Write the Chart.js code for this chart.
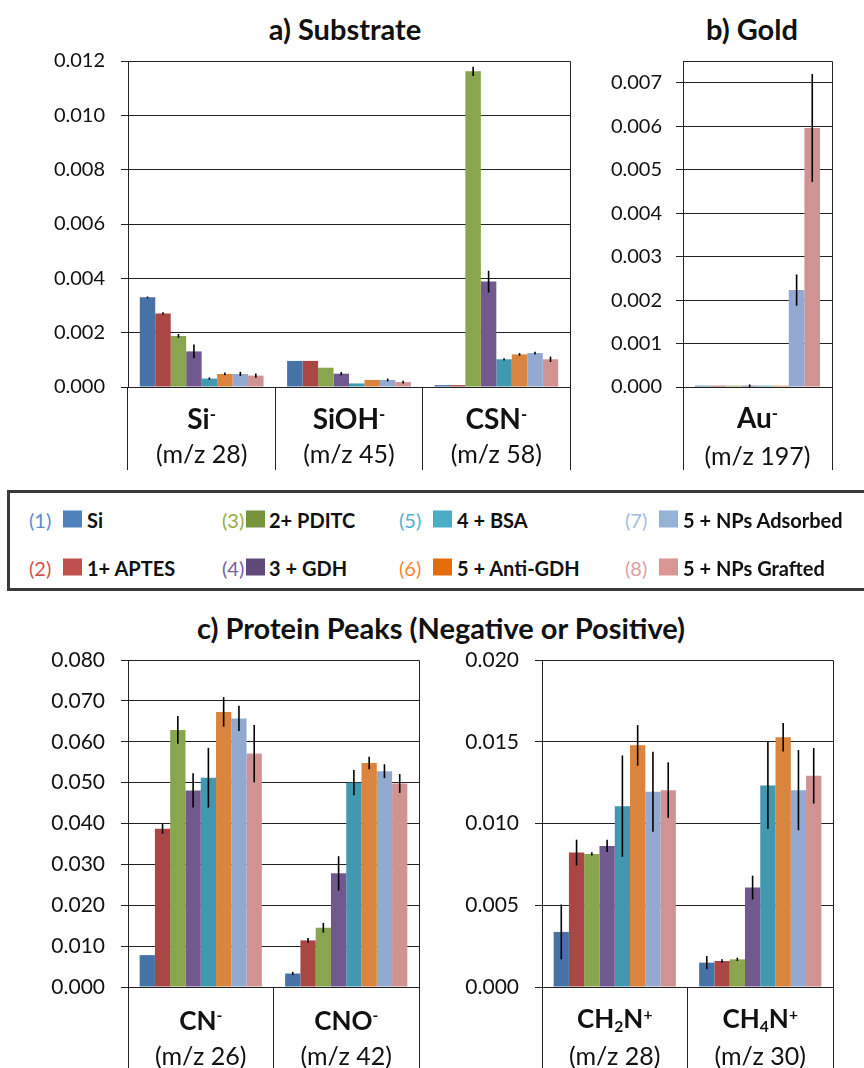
<!DOCTYPE html>
<html>
<head>
<meta charset="utf-8">
<script src="https://cdn.jsdelivr.net/npm/chart.js@4.4.0/dist/chart.umd.min.js"></script>
<style>
  body { margin: 0; background: #fff; font-family: Lato, 'Open Sans', sans-serif; }
  #page { position: relative; width: 864px; height: 1068px; overflow: hidden; background: #fff; }
  canvas { position: absolute; }
  .title { position: absolute; font-weight: 700; font-size: 29px; color: #111; transform: translate(-50%, -50%); white-space: nowrap; }
  .cat { position: absolute; width: 180px; text-align: center; color: #111; white-space: nowrap; transform: translate(-50%, -50%); line-height: 1; }
  .cat.ion { font-weight: 700; }
  .cat sup { font-size: 60%; vertical-align: 0.55em; }
  .cat sub { font-size: 60%; vertical-align: -0.25em; }
  #legendBox { position: absolute; left: 7px; top: 490px; width: 880px; height: 101px; border: 3px solid #3a3a3a; box-sizing: border-box; }
  .lg { position: absolute; font-size: 20px; white-space: nowrap; transform: translateY(-50%); line-height: 1; }
  .lg.txt { font-weight: 700; color: #111; }
  .sq { position: absolute; width: 19px; height: 17px; transform: translateY(-50%); }
</style>
</head>
<body>
<div id="page">
  <div class="title" style="left:345px; top:28px;">a) Substrate</div>
  <div class="title" style="left:752px; top:28px;">b) Gold</div>
  <div class="title" style="left:441px; top:627px;">c) Protein Peaks (Negative or Positive)</div>

  <canvas id="chartA" width="590" height="430" style="left:0; top:45px;"></canvas>
  <canvas id="chartB" width="284" height="430" style="left:580px; top:45px;"></canvas>
  <canvas id="chartC1" width="430" height="423" style="left:0; top:645px;"></canvas>
  <canvas id="chartC2" width="434" height="423" style="left:430px; top:645px;"></canvas>

  <div id="legendBox"></div>
</div>

<script>
// ============================================================
// Data
// ============================================================
const seriesNames = ['Si', '1+ APTES', '2+ PDITC', '3 + GDH', '4 + BSA', '5 + Anti-GDH', '5 + NPs Adsorbed', '5 + NPs Grafted'];

// a) Substrate — per series: [Si-, SiOH-, CSN-]
const substrateIons = ['Si<sup>-</sup>', 'SiOH<sup>-</sup>', 'CSN<sup>-</sup>'];
const substrateMz = ['(m/z 28)', '(m/z 45)', '(m/z 58)'];
const substrateValues = [
  [0.00330, 0.00096, 0.00007],
  [0.00271, 0.00096, 0.00007],
  [0.00188, 0.00071, 0.01162],
  [0.00131, 0.00049, 0.00388],
  [0.00031, 0.00013, 0.00102],
  [0.00048, 0.00026, 0.00120],
  [0.00048, 0.00026, 0.00125],
  [0.00042, 0.00018, 0.00102]
];
const substrateErrors = [
  [0.00003, 0, 0],
  [0.00004, 0, 0],
  [0.00007, 0, 0.00017],
  [0.00025, 0.00006, 0.00040],
  [0.00004, 0, 0.00004],
  [0.00005, 0, 0.00005],
  [0.00008, 0.00005, 0.00005],
  [0.00008, 0.00005, 0.00010]
];
const substrateTicks = [0, 0.002, 0.004, 0.006, 0.008, 0.010, 0.012];
const substrateMax = 0.012;

// b) Gold — per series: [Au-]
const goldIons = ['Au<sup>-</sup>'];
const goldMz = ['(m/z 197)'];
const goldValues = [[0.00003], [0.00003], [0.00003], [0.00003], [0.00003], [0.00003], [0.00223], [0.00596]];
const goldErrors = [[0], [0], [0], [0.00003], [0], [0], [0.00036], [0.00124]];
const goldTicks = [0, 0.001, 0.002, 0.003, 0.004, 0.005, 0.006, 0.007];
const goldMax = 0.0075;

// c) Protein peaks, negative — per series: [CN-, CNO-]
const negIons = ['CN<sup>-</sup>', 'CNO<sup>-</sup>'];
const negMz = ['(m/z 26)', '(m/z 42)'];
const negValues = [
  [0.0078, 0.0033],
  [0.0387, 0.0114],
  [0.0629, 0.0145],
  [0.0481, 0.0278],
  [0.0512, 0.0500],
  [0.0673, 0.0548],
  [0.0657, 0.0528],
  [0.0571, 0.0498]
];
const negErrors = [
  [0, 0.0004],
  [0.0012, 0.0006],
  [0.0034, 0.0012],
  [0.0042, 0.0042],
  [0.0073, 0.0031],
  [0.0036, 0.0015],
  [0.0031, 0.0017],
  [0.0070, 0.0023]
];
const negTicks = [0, 0.01, 0.02, 0.03, 0.04, 0.05, 0.06, 0.07, 0.08];
const negMax = 0.08;

// c) Protein peaks, positive — per series: [CH2N+, CH4N+]
const posIons = ['CH<sub>2</sub>N<sup>+</sup>', 'CH<sub>4</sub>N<sup>+</sup>'];
const posMz = ['(m/z 28)', '(m/z 30)'];
const posValues = [
  [0.00337, 0.00149],
  [0.00822, 0.00159],
  [0.00814, 0.00169],
  [0.00863, 0.00608],
  [0.01106, 0.01233],
  [0.01478, 0.01527],
  [0.01194, 0.01204],
  [0.01204, 0.01292]
];
const posErrors = [
  [0.00168, 0.00040],
  [0.00079, 0.00010],
  [0.00010, 0.00010],
  [0.00038, 0.00073],
  [0.00310, 0.00265],
  [0.00124, 0.00087],
  [0.00245, 0.00245],
  [0.00170, 0.00170]
];
const posTicks = [0, 0.005, 0.010, 0.015, 0.020];
const posMax = 0.02;

// ============================================================
// Styles
// ============================================================
const barColors = ['#4672A8', '#AA4643', '#89A54E', '#71588F', '#4198AF', '#DB843D', '#93A9CF', '#D19392'];
const legendSquareColors = ['#4F81BD', '#C0504D', '#77933C', '#604A7B', '#4BACC6', '#E46C0A', '#95B3D7', '#D99694'];
const legendNumColors = ['#5B8BD0', '#D0524E', '#9AAB45', '#7A62A0', '#4FB2CE', '#F7852E', '#A3BCE0', '#E0A0A0'];
const lineColor = '#222';

// ============================================================
// Plugins
// ============================================================
const errorBars = {
  id: 'errorBars',
  afterDatasetsDraw(chart) {
    const ctx = chart.ctx;
    const y = chart.scales.y;
    ctx.save();
    ctx.strokeStyle = '#000';
    ctx.lineWidth = 1.6;
    chart.data.datasets.forEach((ds, i) => {
      chart.getDatasetMeta(i).data.forEach((bar, j) => {
        const e = ds.errors[j];
        if (!e) return;
        const v = ds.data[j];
        ctx.beginPath();
        ctx.moveTo(bar.x, y.getPixelForValue(v + e));
        ctx.lineTo(bar.x, y.getPixelForValue(Math.max(v - e, 0)));
        ctx.stroke();
      });
    });
    ctx.restore();
  }
};

// top + right border of the plot area (Excel frame)
const plotFrame = {
  id: 'plotFrame',
  afterDraw(chart) {
    const { left, right, top, bottom } = chart.chartArea;
    const ctx = chart.ctx;
    ctx.save();
    ctx.strokeStyle = lineColor;
    ctx.lineWidth = 1;
    ctx.beginPath();
    ctx.moveTo(Math.round(left) + 0.5, Math.round(top) + 0.5);
    ctx.lineTo(Math.round(right) + 0.5, Math.round(top) + 0.5);
    ctx.lineTo(Math.round(right) + 0.5, Math.round(bottom) + 0.5);
    ctx.stroke();
    ctx.restore();
  }
};

// ============================================================
// Chart builder
// ============================================================
function buildChart(canvasId, ions, values, errors, tickValues, yMax, box) {
  const datasets = seriesNames.map((name, i) => ({
    label: name,
    data: values[i],
    errors: errors[i],
    backgroundColor: barColors[i],
    borderWidth: 0,
    barPercentage: 1.0,
    categoryPercentage: 0.84
  }));

  return new Chart(document.getElementById(canvasId), {
    type: 'bar',
    data: { labels: ions.map((_, i) => 'c' + i), datasets },
    options: {
      responsive: false,
      animation: false,
      devicePixelRatio: 1,
      layout: { padding: { top: box.top, right: box.right, left: 0, bottom: 0 } },
      plugins: { legend: { display: false }, tooltip: { enabled: false } },
      scales: {
        x: {
          grid: { offset: true, drawOnChartArea: false, drawTicks: true, tickLength: box.catHeight, color: lineColor },
          border: { display: true, color: lineColor },
          ticks: { display: false },
          afterFit: s => { s.height = box.xHeight; s.paddingLeft = 0; s.paddingRight = 0; }
        },
        y: {
          min: 0,
          max: yMax,
          grid: { color: lineColor, tickLength: 7 },
          border: { display: true, color: lineColor },
          ticks: {
            padding: box.tickPad,
            color: '#111',
            autoSkip: false,
            font: { family: 'Lato', size: box.tickFont },
            callback: v => v.toFixed(3)
          },
          afterBuildTicks: s => { s.ticks = tickValues.map(v => ({ value: v })); },
          afterFit: s => { s.width = box.yWidth; s.paddingTop = 0; s.paddingBottom = 0; }
        }
      }
    },
    plugins: [errorBars, plotFrame]
  });
}

// category labels under each axis, placed from the chart's own x scale
function addCategoryLabels(chart, canvasLeft, ions, mz, pos) {
  const page = document.getElementById('page');
  ions.forEach((ion, i) => {
    const x = canvasLeft + chart.scales.x.getPixelForValue(i);
    const a = document.createElement('div');
    a.className = 'cat ion';
    a.innerHTML = ion;
    a.style.left = x + 'px';
    a.style.top = pos.ionY + 'px';
    a.style.fontSize = pos.ionFont + 'px';
    page.appendChild(a);

    const b = document.createElement('div');
    b.className = 'cat';
    b.textContent = mz[i];
    b.style.left = x + 'px';
    b.style.top = pos.mzY + 'px';
    b.style.fontSize = pos.mzFont + 'px';
    page.appendChild(b);
  });
}

const chartA = buildChart('chartA', substrateIons, substrateValues, substrateErrors, substrateTicks, substrateMax,
  { top: 16, right: 20, yWidth: 128, xHeight: 88, catHeight: 83, tickPad: 16, tickFont: 20 });
const chartB = buildChart('chartB', goldIons, goldValues, goldErrors, goldTicks, goldMax,
  { top: 16, right: 32, yWidth: 103, xHeight: 88, catHeight: 83, tickPad: 14, tickFont: 20 });
const chartC1 = buildChart('chartC1', negIons, negValues, negErrors, negTicks, negMax,
  { top: 15, right: 11, yWidth: 128, xHeight: 81, catHeight: 81, tickPad: 16, tickFont: 21 });
const chartC2 = buildChart('chartC2', posIons, posValues, posErrors, posTicks, posMax,
  { top: 15, right: 31, yWidth: 112, xHeight: 81, catHeight: 81, tickPad: 16, tickFont: 21 });

addCategoryLabels(chartA, 0, substrateIons, substrateMz, { ionY: 418, mzY: 453, ionFont: 28, mzFont: 25 });
addCategoryLabels(chartB, 580, goldIons, goldMz, { ionY: 417, mzY: 455, ionFont: 28, mzFont: 25 });
addCategoryLabels(chartC1, 0, negIons, negMz, { ionY: 1020, mzY: 1055, ionFont: 26, mzFont: 25 });
addCategoryLabels(chartC2, 430, posIons, posMz, { ionY: 1020, mzY: 1055, ionFont: 26, mzFont: 25 });

// ============================================================
// Legend (two rows, four columns)
// ============================================================
const legendNumX = [29, 222, 399, 625];
const legendSqX = [63, 246, 433, 659];
const legendTextX = [87, 269, 457, 683];
const legendRowY = [520, 568];

(function buildLegend() {
  const page = document.getElementById('page');
  seriesNames.forEach((name, i) => {
    const col = Math.floor(i / 2), row = i % 2;
    const y = legendRowY[row];

    const num = document.createElement('div');
    num.className = 'lg';
    num.textContent = '(' + (i + 1) + ')';
    num.style.left = legendNumX[col] + 'px';
    num.style.top = y + 'px';
    num.style.color = legendNumColors[i];
    page.appendChild(num);

    const sq = document.createElement('div');
    sq.className = 'sq';
    sq.style.left = legendSqX[col] + 'px';
    sq.style.top = (y - 1) + 'px';
    sq.style.background = legendSquareColors[i];
    page.appendChild(sq);

    const txt = document.createElement('div');
    txt.className = 'lg txt';
    txt.textContent = name;
    txt.style.left = legendTextX[col] + 'px';
    txt.style.top = y + 'px';
    page.appendChild(txt);
  });
})();
</script>
</body>
</html>
